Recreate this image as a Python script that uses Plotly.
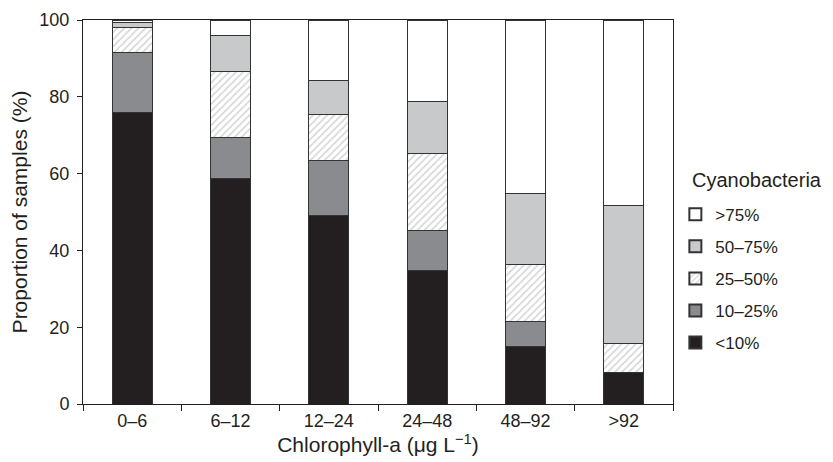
import plotly.graph_objects as go

categories = ["0–6", "6–12", "12–24", "24–48", "48–92", ">92"]
lt10 = [75.8, 58.8, 49.0, 34.7, 14.9, 8.2]
p10_25 = [15.7, 10.6, 14.4, 10.4, 6.5, 0.0]
p25_50 = [6.5, 17.1, 12.1, 20.1, 14.9, 7.6]
p50_75 = [1.3, 9.4, 8.8, 13.5, 18.5, 36.0]
gt75 = [0.7, 4.1, 15.7, 21.3, 45.2, 48.2]
legend_title = "Cyanobacteria"

series = [
    ("<10%", lt10, "#231f20", None),
    ("10–25%", p10_25, "#8a8b8e", None),
    ("25–50%", p25_50, "#ffffff", "/"),
    ("50–75%", p50_75, "#c8c9cb", None),
    (">75%", gt75, "#ffffff", None),
]

fig = go.Figure()
n = len(series)
for i, (name, vals, color, pat) in enumerate(series):
    marker = dict(color=color, line=dict(color="#333333", width=1))
    if pat:
        marker["pattern"] = dict(shape=pat, fgcolor="#a8a8a8", bgcolor="#ffffff", size=5, solidity=0.3)
    fig.add_trace(go.Bar(x=categories, y=vals, name=name, marker=marker,
                         legendgroup=name, legendrank=n - i, width=0.41))

font = "Liberation Sans, Arial, sans-serif"
fig.update_layout(
    barmode="stack",
    width=825, height=454,
    margin=dict(l=75, r=160, t=12, b=58, autoexpand=False),
    plot_bgcolor="white", paper_bgcolor="white",
    font=dict(family=font, color="#231f20", size=17),
    legend=dict(
        traceorder="grouped", tracegroupgap=7,
        x=1.004, xanchor="left", y=0.54, yanchor="top",
        font=dict(size=17), itemsizing="constant",
    ),
    annotations=[dict(
        text=legend_title, xref="paper", yref="paper",
        x=1.028, y=0.583, xanchor="left", yanchor="middle",
        showarrow=False, font=dict(size=20),
    )],
    bargap=0.59,
)
fig.update_xaxes(
    type="category", tickson="boundaries", ticks="outside", ticklen=6,
    showline=True, linecolor="#231f20", linewidth=1, mirror=True,
    tickcolor="#231f20", automargin=False,
    title=dict(text="Chlorophyll-a (μg L<sup>−1</sup>)", font=dict(size=21), standoff=6),
    tickfont=dict(size=18),
)
fig.update_yaxes(
    range=[0, 100], tickvals=[0, 20, 40, 60, 80, 100], ticks="outside", ticklen=5,
    showline=True, linecolor="#231f20", linewidth=1, mirror=True,
    tickcolor="#231f20", showgrid=False, zeroline=False, automargin=False,
    title=dict(text="Proportion of samples (%)", font=dict(size=21), standoff=7),
    tickfont=dict(size=18), ticklabelstandoff=4,
)
fig.write_html("out.html")
